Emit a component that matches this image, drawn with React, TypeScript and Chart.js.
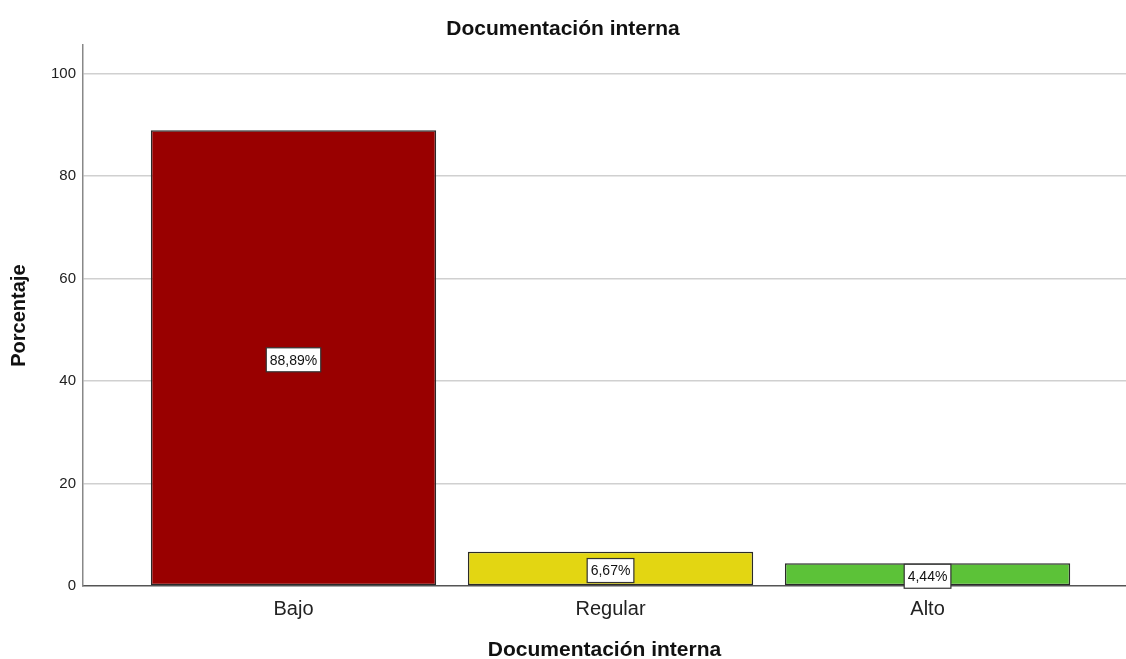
import React, { useEffect, useRef } from "react";
import { Chart, registerables } from "chart.js";

Chart.register(...registerables);

const chartTitle = "Documentación interna";
const xAxisTitle = "Documentación interna";
const yAxisTitle = "Porcentaje";
const categories = ["Bajo", "Regular", "Alto"];
const percentages = [88.89, 6.67, 4.44];
const barColors = ["#990000", "#E3D612", "#5CC238"];
const yTickValues = [0, 20, 40, 60, 80, 100];

const valueLabels = {
  id: "valueLabels",
  afterDatasetsDraw(chart: any) {
    const ctx = chart.ctx;
    const meta = chart.getDatasetMeta(0);
    ctx.save();
    ctx.font = "14px 'Liberation Sans', Arial, sans-serif";
    ctx.textAlign = "center";
    ctx.textBaseline = "middle";
    meta.data.forEach((el: any, i: number) => {
      const text = percentages[i].toFixed(2).replace(".", ",") + "%";
      const w = ctx.measureText(text).width + 7;
      const h = 24;
      const cx = el.x;
      const cy = (el.y + el.base) / 2 + 2;
      ctx.fillStyle = "#ffffff";
      ctx.fillRect(cx - w / 2, cy - h / 2, w, h);
      ctx.strokeStyle = "#333333";
      ctx.lineWidth = 1.2;
      ctx.strokeRect(cx - w / 2, cy - h / 2, w, h);
      ctx.fillStyle = "#111111";
      ctx.fillText(text, cx, cy + 1);
    });
    ctx.restore();
  },
};

export default function App() {
  const canvasRef = useRef<HTMLCanvasElement | null>(null);

  useEffect(() => {
    if (!canvasRef.current) return;
    Chart.defaults.font.family = "'Liberation Sans', Arial, sans-serif";
    const chart = new Chart(canvasRef.current, {
      type: "bar",
      data: {
        datasets: [
          {
            data: percentages.map((v, i) => ({ x: i, y: v })),
            backgroundColor: barColors,
            borderColor: "#2a2a2a",
            borderWidth: 1.5,
            borderSkipped: false,
            barPercentage: 0.9,
            categoryPercentage: 1,
          },
        ],
      },
      options: {
        animation: false,
        responsive: true,
        maintainAspectRatio: false,
        layout: { padding: 0 },
        plugins: {
          legend: { display: false },
          tooltip: { enabled: false },
          title: {
            display: true,
            text: chartTitle,
            color: "#111111",
            font: { size: 21, weight: "bold" },
            padding: { top: 17, bottom: 3 },
          },
        },
        scales: {
          x: {
            type: "linear",
            offset: false,
            min: -0.664,
            max: 2.626,
            afterBuildTicks: (scale: any) => {
              scale.ticks = categories.map((_, i) => ({ value: i }));
            },
            afterFit: (scale: any) => {
              scale.height = 73;
            },
            ticks: {
              callback: (v: any) => categories[v] ?? "",
              font: { size: 20 },
              color: "#222222",
              padding: 11,
            },
            grid: { display: false, drawTicks: false, offset: false },
            border: { display: true, color: "#555555", width: 1.5 },
            title: {
              display: true,
              text: xAxisTitle,
              color: "#111111",
              font: { size: 21, weight: "bold", lineHeight: 0.8 },
              padding: { top: 0, bottom: 0 },
            },
          },
          y: {
            min: 0,
            max: 105.5,
            afterBuildTicks: (scale: any) => {
              scale.ticks = yTickValues.map((v) => ({ value: v }));
            },
            afterFit: (scale: any) => {
              scale.width = 83;
            },
            ticks: {
              font: { size: 15 },
              color: "#222222",
              padding: 7,
            },
            grid: {
              drawTicks: false,
              color: (c: any) => (c.tick && c.tick.value === 0 ? "rgba(0,0,0,0)" : "#d0d0d0"),
              lineWidth: 1.5,
            },
            border: { display: true, color: "#888888", width: 1.5 },
            title: {
              display: true,
              text: yAxisTitle,
              color: "#111111",
              font: { size: 20, weight: "bold" },
              padding: { top: 7, bottom: 0 },
            },
          },
        },
      },
      plugins: [valueLabels],
    });
    return () => chart.destroy();
  }, []);

  return (
    <div style={{ position: "fixed", left: 0, top: 0, width: 1126, height: 659, background: "#ffffff" }}>
      <canvas ref={canvasRef} />
    </div>
  );
}
